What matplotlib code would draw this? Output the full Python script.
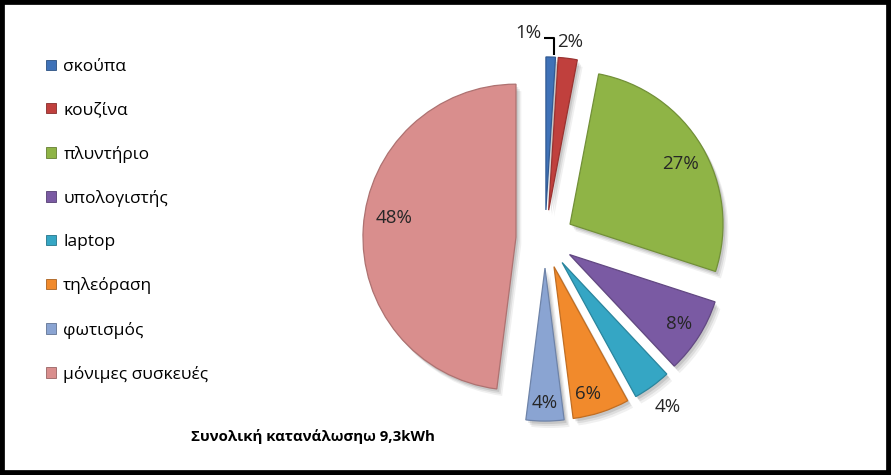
import numpy as np
import matplotlib
matplotlib.use("Agg")
import matplotlib.pyplot as plt
from matplotlib.patches import Rectangle, Patch
from matplotlib.colors import to_rgb

plt.rcParams['font.family'] = ['Open Sans', 'DejaVu Sans']

# data
labels = ['σκούπα', 'κουζίνα', 'πλυντήριο', 'υπολογιστής', 'laptop',
          'τηλεόραση', 'φωτισμός', 'μόνιμες συσκευές']
shares = [1, 2, 27, 8, 4, 6, 4, 48]
colors = ['#3f72b8', '#c0403d', '#8fb446', '#7a5aa3', '#35a6c4',
          '#f18a2c', '#8aa4d2', '#d98e8d']
footer = 'Συνολική κατανάλωσηω 9,3kWh'

# label placement: (distance from wedge tip in radii, angle shift in degrees)
lab_pos = [(1.16, 7.5), (1.11, 0), (0.82, -2), (0.85, 0), (1.17, 0),
           (0.86, -3), (0.88, 0), (0.81, -5.5)]

W, H = 891, 475
fig = plt.figure(figsize=(W / 100, H / 100), dpi=100)

# pie centre (545, 239) px, radius 153 px
cx, cy, R = 545, 239, 153
half = 200
ax = fig.add_axes([(cx - half) / W, (H - cy - half) / H, 2 * half / W, 2 * half / H])
explode = [0.19] * len(shares)


def darker(c, f=0.75):
    r, g, b = to_rgb(c)
    return (r * f, g * f, b * f)


# soft shadow
for k, a in [(0.035, 0.06), (0.025, 0.08), (0.015, 0.10)]:
    sw, _ = ax.pie(shares, explode=explode, startangle=90, counterclock=False,
                   colors=['#000000'] * len(shares), center=(k, -k * 1.3),
                   wedgeprops=dict(linewidth=0, alpha=a))

wedges, _ = ax.pie(shares, explode=explode, startangle=90, counterclock=False,
                   colors=colors,
                   wedgeprops=dict(linewidth=0.9))
for w, c in zip(wedges, colors):
    w.set_edgecolor(darker(c, 0.8))

for i, w in enumerate(wedges):
    mid = np.deg2rad((w.theta1 + w.theta2) / 2 + lab_pos[i][1])
    x0, y0 = w.center
    r = lab_pos[i][0]
    tx, ty = x0 + r * np.cos(mid), y0 + r * np.sin(mid)
    ax.text(tx, ty, f'{shares[i]}%', ha='center', va='center',
            fontsize=13.5, color='#262626')
    if i == 0:
        # leader line for the 1% label
        m0 = np.deg2rad((w.theta1 + w.theta2) / 2)
        topx, topy = x0 + np.cos(m0), y0 + np.sin(m0)
        ax.plot([tx + 0.1, topx + 0.02, topx + 0.02], [ty - 0.03, ty - 0.03, topy + 0.01],
                color='black', lw=1.5, solid_capstyle='butt', clip_on=False)

ax.set_xlim(-half / R, half / R)
ax.set_ylim(-half / R, half / R)
ax.set_aspect('auto')
ax.axis('off')

handles = [Patch(facecolor=c, edgecolor=darker(c, 0.7), linewidth=0.6) for c in colors]
fig.legend(handles, labels, loc='upper left', bbox_to_anchor=(46 / W, 1 - 59 / H),
           frameon=False, fontsize=12.5, handlelength=0.55, handleheight=0.55,
           handletextpad=0.45, labelspacing=1.57, borderpad=0, borderaxespad=0)

fig.text(191 / W, 1 - 436 / H, footer, ha='left', va='center',
         fontsize=10.8, fontweight='bold', color='black')

fig.patches.append(Rectangle((0, 0), 1, 1, transform=fig.transFigure, fill=False,
                             edgecolor='black', linewidth=7, zorder=10))

fig.savefig('out.png', dpi=100, facecolor='white')
